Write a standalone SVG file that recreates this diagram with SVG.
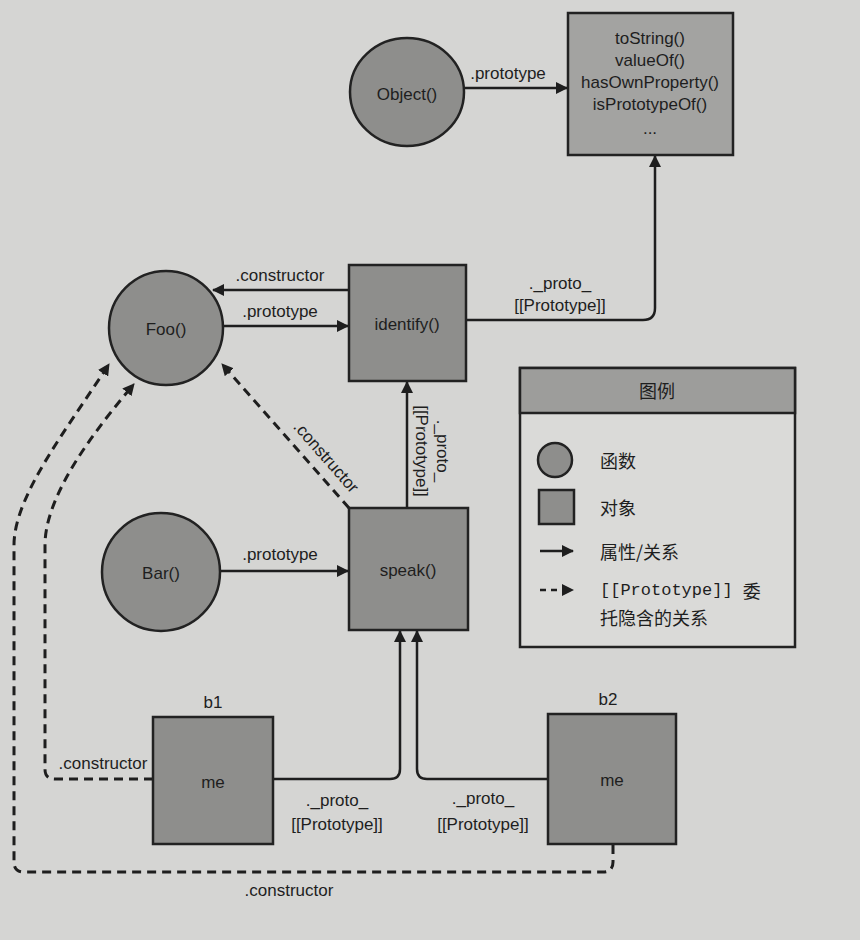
<svg xmlns="http://www.w3.org/2000/svg" width="860" height="940" viewBox="0 0 860 940">
<defs>
<marker id="ah" viewBox="0 0 12 12" markerWidth="12" markerHeight="12" refX="11" refY="6" orient="auto" markerUnits="userSpaceOnUse">
<path d="M0,0 L12,6 L0,12 z" fill="#1e1e1e"/>
</marker>
<style>
.bg{fill:#d5d5d3}
.node{fill:#8e8e8c;stroke:#222;stroke-width:2.5}
.light{fill:#a3a3a1;stroke:#222;stroke-width:2.5}
.t{font-family:"Liberation Sans Narrow","Liberation Sans",sans-serif;font-size:17px;fill:#1e1e1e;text-anchor:middle;dominant-baseline:central}
.cn{font-family:"Noto Sans CJK SC",sans-serif;font-size:18px;fill:#1e1e1e;dominant-baseline:central}
.mono{font-family:"Liberation Mono","Noto Sans CJK SC",monospace;font-size:17px;fill:#1e1e1e;dominant-baseline:central}
.line{fill:none;stroke:#1e1e1e;stroke-width:2.5}
.dash{fill:none;stroke:#1e1e1e;stroke-width:3;stroke-dasharray:9 6}
</style>
</defs>
<rect class="bg" x="0" y="0" width="860" height="940"/>

<g id="connectors">
<path class="line" d="M465,88 H567" marker-end="url(#ah)"/>
<path class="line" d="M466,320 H643 Q655,320 655,308 V156" marker-end="url(#ah)"/>
<path class="line" d="M349,290 H213" marker-end="url(#ah)"/>
<path class="line" d="M223,326 H348" marker-end="url(#ah)"/>
<path class="line" d="M407,508 V382" marker-end="url(#ah)"/>
<path class="dash" d="M349,508 L222,364" marker-end="url(#ah)"/>
<path class="line" d="M220,571 H348" marker-end="url(#ah)"/>
<path class="line" d="M273,779 H390 Q400,779 400,769 V631" marker-end="url(#ah)"/>
<path class="line" d="M548,779 H427 Q417,779 417,769 V631" marker-end="url(#ah)"/>
<path class="dash" d="M153,779 H55 Q45,779 45,769 V545 C45,495 95,430 134,384" marker-end="url(#ah)"/>
<path class="dash" d="M613,845 V862 Q613,872 603,872 H24 Q14,872 14,862 V545 C14,495 70,425 109,364" marker-end="url(#ah)"/>

<text class="t" x="508" y="73">.prototype</text>
<text class="t" x="280" y="275">.constructor</text>
<text class="t" x="280" y="311">.prototype</text>
<text class="t" x="560" y="283">._proto_</text>
<text class="t" x="560" y="305">[[Prototype]]</text>
<text class="t" transform="translate(442,451) rotate(90)" x="0" y="0">._proto_</text>
<text class="t" transform="translate(421,451) rotate(90)" x="0" y="0">[[Prototype]]</text>
<text class="t" transform="translate(326,457) rotate(48.8)" x="0" y="0">.constructor</text>
<text class="t" x="280" y="554">.prototype</text>
<text class="t" x="337" y="800">._proto_</text>
<text class="t" x="337" y="824">[[Prototype]]</text>
<text class="t" x="483" y="798">._proto_</text>
<text class="t" x="483" y="824">[[Prototype]]</text>
<text class="t" x="103" y="763">.constructor</text>
<text class="t" x="289" y="890">.constructor</text>
</g>

<g id="object-fn">
<ellipse class="node" cx="407" cy="92" rx="57" ry="54"/>
<text class="t" x="407" y="94">Object()</text>
</g>
<g id="object-proto">
<rect class="light" x="568" y="13" width="165" height="142"/>
<text class="t" x="650" y="38">toString()</text>
<text class="t" x="650" y="60">valueOf()</text>
<text class="t" x="650" y="82">hasOwnProperty()</text>
<text class="t" x="650" y="104">isPrototypeOf()</text>
<text class="t" x="650" y="128">...</text>
</g>
<g id="foo">
<circle class="node" cx="166" cy="328" r="57"/>
<text class="t" x="166" y="329">Foo()</text>
</g>
<g id="identify">
<rect class="node" x="349" y="265" width="117" height="116"/>
<text class="t" x="407" y="324">identify()</text>
</g>
<g id="bar">
<circle class="node" cx="161" cy="572" r="59"/>
<text class="t" x="161" y="573">Bar()</text>
</g>
<g id="speak">
<rect class="node" x="349" y="508" width="119" height="122"/>
<text class="t" x="408" y="570">speak()</text>
</g>
<g id="b1">
<text class="t" x="213" y="702">b1</text>
<rect class="node" x="153" y="717" width="120" height="127"/>
<text class="t" x="213" y="782">me</text>
</g>
<g id="b2">
<text class="t" x="608" y="699">b2</text>
<rect class="node" x="548" y="714" width="128" height="130"/>
<text class="t" x="612" y="780">me</text>
</g>

<g id="legend">
<rect x="520" y="368" width="275" height="279" fill="#dadad8" stroke="#222" stroke-width="2.5"/>
<rect x="520" y="368" width="275" height="45" fill="#9d9d9b" stroke="#222" stroke-width="2.5"/>
<text class="cn" x="657" y="390" font-size="25" text-anchor="middle">图例</text>
<circle class="node" cx="555" cy="460" r="17"/>
<text class="cn" x="600" y="460">函数</text>
<rect class="node" x="539" y="490" width="35" height="34"/>
<text class="cn" x="600" y="507">对象</text>
<path class="line" d="M540,551 H573" marker-end="url(#ah)"/>
<text class="cn" x="600" y="551">属性/关系</text>
<path class="line" d="M540,590 H573" stroke-dasharray="6 5" marker-end="url(#ah)"/>
<text class="mono" x="600" y="590">[[Prototype]] <tspan font-family="Noto Sans CJK SC" font-size="18">委</tspan></text>
<text class="cn" x="600" y="617">托隐含的关系</text>
</g>
</svg>
